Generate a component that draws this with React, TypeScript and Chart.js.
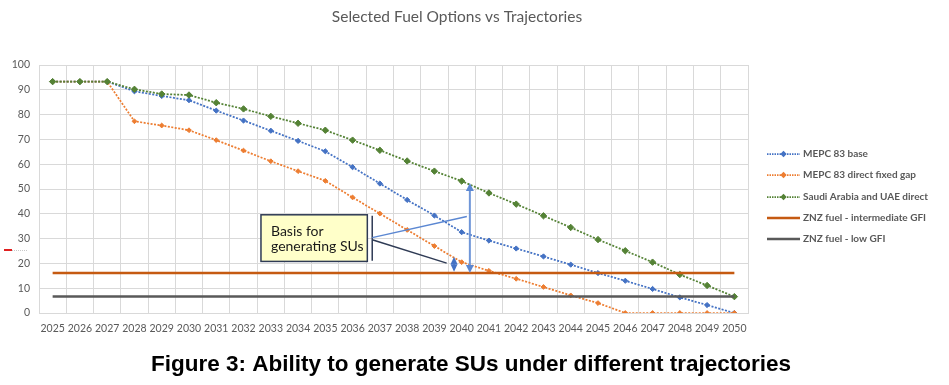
import React, { useEffect, useRef } from "react";
import { Chart, registerables } from "chart.js";

Chart.register(...registerables);

const years = ["2025","2026","2027","2028","2029","2030","2031","2032","2033","2034","2035","2036","2037","2038","2039","2040","2041","2042","2043","2044","2045","2046","2047","2048","2049","2050"];

const mepcBase = [93.3,93.3,93.3,89.4,87.5,85.8,81.6,77.6,73.5,69.4,65.2,58.8,52.2,45.6,39.3,32.6,29.2,26.0,22.8,19.5,16.1,13.0,9.7,6.3,3.2,0];
const mepcFixedGap = [93.3,93.3,93.3,77.3,75.6,73.7,69.7,65.5,61.2,57.2,53.3,46.6,40.1,33.5,27.0,20.5,17.0,13.8,10.5,7.1,4.0,0,0,0,0,0];
const saudiUae = [93.3,93.3,93.3,90.2,88.3,87.9,84.8,82.3,79.3,76.5,73.7,69.7,65.6,61.3,57.2,53.2,48.4,43.9,39.2,34.5,29.6,25.1,20.5,15.5,11.1,6.6];
const znzIntermediate = [16.1,16.1,16.1,16.1,16.1,16.1,16.1,16.1,16.1,16.1,16.1,16.1,16.1,16.1,16.1,16.1,16.1,16.1,16.1,16.1,16.1,16.1,16.1,16.1,16.1,16.1];
const znzLow = [6.7,6.7,6.7,6.7,6.7,6.7,6.7,6.7,6.7,6.7,6.7,6.7,6.7,6.7,6.7,6.7,6.7,6.7,6.7,6.7,6.7,6.7,6.7,6.7,6.7,6.7];

const seriesLabels = ["MEPC 83 base","MEPC 83 direct fixed gap","Saudi Arabia and UAE direct","ZNZ fuel - intermediate GFI","ZNZ fuel - low GFI"];
const seriesColors = ["#4472C4","#ED7D31","#548235","#C55A11","#595959"];

const chartTitle = "Selected Fuel Options vs Trajectories";
const figureCaption = "Figure 3: Ability to generate SUs under different trajectories";
const boxLines = ["Basis for", "generating SUs"];

const FONT = "Lato, 'Open Sans', sans-serif";

function diamond(ctx: CanvasRenderingContext2D, x: number, y: number, r: number, color: string) {
  ctx.beginPath();
  ctx.moveTo(x, y - r);
  ctx.lineTo(x + r, y);
  ctx.lineTo(x, y + r);
  ctx.lineTo(x - r, y);
  ctx.closePath();
  ctx.fillStyle = color;
  ctx.fill();
}

function arrowHead(ctx: CanvasRenderingContext2D, x: number, tipY: number, dir: number, w: number, h: number, color: string) {
  ctx.beginPath();
  ctx.moveTo(x, tipY);
  ctx.lineTo(x - w / 2, tipY + dir * h);
  ctx.lineTo(x + w / 2, tipY + dir * h);
  ctx.closePath();
  ctx.fillStyle = color;
  ctx.fill();
}

const overlay = {
  id: "overlay",
  beforeDraw(chart: any) {
    const ctx = chart.ctx;
    ctx.save();
    ctx.fillStyle = "#fff";
    ctx.fillRect(0, 0, chart.width, chart.height);
    ctx.restore();
  },
  afterDraw(chart: any) {
    const ctx: CanvasRenderingContext2D = chart.ctx;
    const xs = chart.scales.x;
    const ys = chart.scales.y;
    const px = (v: number) => xs.getPixelForValue(v);
    const py = (v: number) => ys.getPixelForValue(v);
    ctx.save();

    // title
    ctx.fillStyle = "#595959";
    ctx.font = `15.5px ${FONT}`;
    ctx.textAlign = "center";
    ctx.textBaseline = "middle";
    ctx.fillText(chartTitle, 457, 17);

    // caption
    ctx.fillStyle = "#000";
    ctx.font = "bold 22.5px 'Liberation Sans', Arial, sans-serif";
    ctx.fillText(figureCaption, 471, 365);

    // legend
    ctx.textAlign = "left";
    ctx.font = `bold 10px ${FONT}`;
    const legY = [154, 175, 197, 218, 239];
    seriesLabels.forEach((lab, i) => {
      const y = legY[i];
      ctx.strokeStyle = seriesColors[i];
      if (i < 3) {
        ctx.lineWidth = 1.75;
        ctx.setLineDash([1.5, 1]);
      } else {
        ctx.lineWidth = 2.5;
        ctx.setLineDash([]);
      }
      ctx.beginPath();
      ctx.moveTo(767, y);
      ctx.lineTo(800, y);
      ctx.stroke();
      ctx.setLineDash([]);
      if (i < 3) diamond(ctx, 783.5, y, 3.2, seriesColors[i]);
      ctx.fillStyle = "#595959";
      ctx.fillText(lab, 803, y);
    });

    // annotation box
    const bx0 = px(7.64), bx1 = px(11.54), by0 = py(39.6), by1 = py(20.8);
    ctx.fillStyle = "#FFFFC9";
    ctx.fillRect(bx0, by0, bx1 - bx0, by1 - by0);
    ctx.strokeStyle = "#2F3B55";
    ctx.lineWidth = 1.5;
    ctx.strokeRect(bx0, by0, bx1 - bx0, by1 - by0);
    ctx.fillStyle = "#1a1a1a";
    ctx.font = `14px ${FONT}`;
    ctx.fillText(boxLines[0], bx0 + 10, by0 + 16.5);
    ctx.fillText(boxLines[1], bx0 + 10, by0 + 31.5);

    // bracket
    const brx = px(11.72);
    ctx.strokeStyle = "#2F3B55";
    ctx.lineWidth = 1.5;
    ctx.beginPath();
    ctx.moveTo(brx, py(39.2));
    ctx.lineTo(brx, py(21.1));
    ctx.stroke();

    // blue connector
    ctx.strokeStyle = "#5B87D2";
    ctx.lineWidth = 1.5;
    ctx.beginPath();
    ctx.moveTo(brx, py(30.4));
    ctx.lineTo(px(15.19), py(38.9));
    ctx.stroke();

    // dark connector
    ctx.strokeStyle = "#2F3B55";
    ctx.beginPath();
    ctx.moveTo(brx, py(29.5));
    ctx.lineTo(px(14.45), py(20.1));
    ctx.stroke();

    // small double arrow
    const sx = px(14.72);
    const sTop = py(22.7), sBot = py(16.6);
    ctx.strokeStyle = "#4472C4";
    ctx.lineWidth = 1.5;
    ctx.beginPath();
    ctx.moveTo(sx, sTop + 3);
    ctx.lineTo(sx, sBot - 3);
    ctx.stroke();
    arrowHead(ctx, sx, sTop, 1, 7, 7.5, "#4472C4");
    arrowHead(ctx, sx, sBot, -1, 7, 7.5, "#4472C4");

    // long double arrow
    const lx = px(15.3);
    const lTop = py(52.4), lBot = py(16.1);
    ctx.strokeStyle = "#6F96D8";
    ctx.lineWidth = 2;
    ctx.beginPath();
    ctx.moveTo(lx, lTop + 5);
    ctx.lineTo(lx, lBot - 5);
    ctx.stroke();
    arrowHead(ctx, lx, lTop, 1, 8, 8, "#5B87D2");
    arrowHead(ctx, lx, lBot, -1, 8, 8, "#5B87D2");

    // small red artifact at left
    ctx.strokeStyle = "#E02020";
    ctx.lineWidth = 2;
    ctx.beginPath();
    ctx.moveTo(4, 250);
    ctx.lineTo(12, 250);
    ctx.stroke();
    ctx.strokeStyle = "#C8C8C8";
    ctx.lineWidth = 1;
    ctx.setLineDash([1, 1]);
    ctx.beginPath();
    ctx.moveTo(12, 250.5);
    ctx.lineTo(27, 250.5);
    ctx.stroke();
    ctx.setLineDash([]);

    ctx.restore();
  },
};

function seriesDataset(label: string, data: number[], color: string, order: number, radius: number) {
  return {
    label,
    data,
    borderColor: color,
    backgroundColor: color,
    borderWidth: 1.75,
    borderDash: [2, 1.5],
    pointStyle: "rectRot",
    pointRadius: radius,
    pointBorderWidth: 1,
    pointBackgroundColor: color,
    pointBorderColor: color,
    tension: 0,
    order,
  };
}

function flatDataset(label: string, data: number[], color: string, order: number) {
  return {
    label,
    data,
    borderColor: color,
    backgroundColor: color,
    borderWidth: 2.5,
    pointRadius: 0,
    tension: 0,
    order,
  };
}

export default function App() {
  const ref = useRef<HTMLCanvasElement>(null);
  useEffect(() => {
    document.body.style.margin = "0";
    const tickFont = { family: FONT, size: 10.5 };
    const chart = new Chart(ref.current as HTMLCanvasElement, {
      type: "line",
      data: {
        labels: years,
        datasets: [
          seriesDataset(seriesLabels[0], mepcBase, seriesColors[0], 5, 2.6),
          seriesDataset(seriesLabels[1], mepcFixedGap, seriesColors[1], 4, 2.4),
          seriesDataset(seriesLabels[2], saudiUae, seriesColors[2], 3, 3.2),
          flatDataset(seriesLabels[3], znzIntermediate, seriesColors[3], 2),
          flatDataset(seriesLabels[4], znzLow, seriesColors[4], 1),
        ] as any,
      },
      options: {
        responsive: false,
        animation: false,
        devicePixelRatio: 1,
        layout: { padding: { left: 0, right: 201, top: 65, bottom: 0 } },
        plugins: {
          legend: { display: false },
          tooltip: { enabled: false },
          title: { display: false },
        },
        scales: {
          x: {
            offset: true,
            grid: { offset: true, color: "#D9D9D9", drawTicks: false, lineWidth: 1 },
            border: { color: "#D9D9D9" },
            ticks: { color: "#595959", font: tickFont, padding: 9, maxRotation: 0, autoSkip: false },
            afterFit: (s: any) => { s.height = 72; },
          },
          y: {
            min: 0,
            max: 100,
            grid: { color: "#D9D9D9", drawTicks: false, lineWidth: 1 },
            border: { color: "#D9D9D9" },
            ticks: { stepSize: 10, color: "#595959", font: tickFont, padding: 9 },
            afterFit: (s: any) => { s.width = 39; },
          },
        },
      } as any,
      plugins: [overlay],
    });
    return () => chart.destroy();
  }, []);
  return (
    <div style={{ position: "absolute", left: 0, top: 0, width: 949, height: 385, background: "#fff" }}>
      <canvas ref={ref} width={949} height={385} style={{ display: "block" }} />
    </div>
  );
}
